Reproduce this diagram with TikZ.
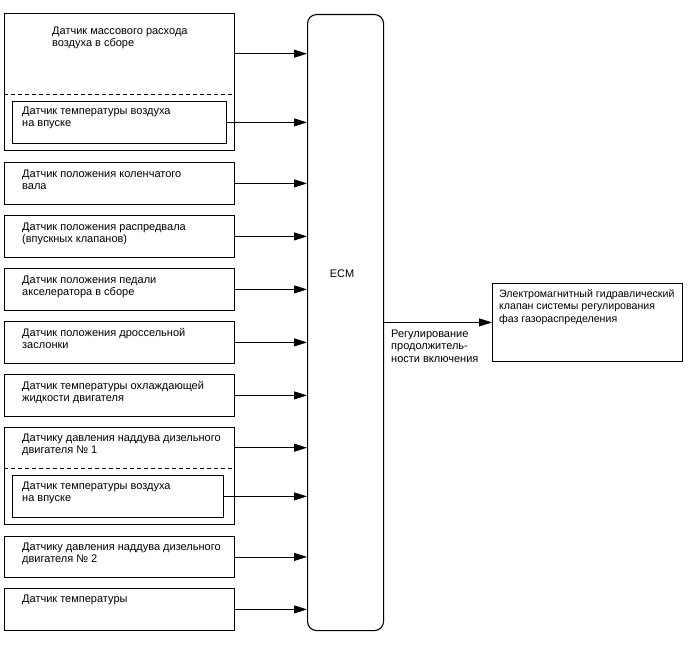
\documentclass[tikz,border=0pt]{standalone}
\usepackage{fontspec}
\setmainfont{Liberation Sans}
\usetikzlibrary{arrows.meta, positioning}

\begin{document}
\begin{tikzpicture}[x=1pt, y=-1pt,
    sensor/.style={draw, line width=0.8pt, anchor=north west, inner sep=0pt, minimum width=230pt, minimum height=42pt},
    part/.style={anchor=north west, inner sep=0pt, minimum width=230pt, minimum height=#1},
    txt/.style={anchor=base west, align=left, inner sep=0pt, font=\fontsize{11}{12}\selectfont},
    split/.style={line width=0.8pt, dash pattern=on 4pt off 3pt},
    arrow/.style={-{Triangle[length=13pt, width=8pt]}, line width=0.8pt}
]
\useasboundingbox (0,0) rectangle (688,658);

\node[sensor, minimum height=137pt] (maf) at (4,13) {};
\node[part=81pt] (maf-top) at (4,13) {};
\draw[split] (maf-top.south west) -- (maf-top.south east);
\node[txt] (maf-t) at (52,47) {Датчик массового расхода\\воздуха в сборе};
\node[sensor, minimum width=214pt] (iat1) at (12,101) {};
\node[txt] (iat1-t) at (22,127) {Датчик температуры воздуха\\на впуске};

\node[sensor] (crank) at (4,162) {};
\node[txt] (crank-t) at (22,189) {Датчик положения коленчатого\\вала};
\node[sensor] (cam) at (4,215) {};
\node[txt] (cam-t) at (22,242) {Датчик положения распредвала\\(впускных клапанов)};
\node[sensor] (pedal) at (4,268) {};
\node[txt] (pedal-t) at (22,295) {Датчик положения педали\\акселератора в сборе};
\node[sensor] (tps) at (4,321) {};
\node[txt] (tps-t) at (22,348) {Датчик положения дроссельной\\заслонки};
\node[sensor] (ect) at (4,374) {};
\node[txt] (ect-t) at (22,401) {Датчик температуры охлаждающей\\жидкости двигателя};

\node[sensor, minimum height=97pt] (boost) at (4,427) {};
\node[part=41pt] (boost-top) at (4,427) {};
\draw[split] (boost-top.south west) -- (boost-top.south east);
\node[txt] (boost-t) at (22,453) {Датчику давления наддува дизельного\\двигателя № 1};
\node[sensor, minimum width=211pt] (iat2) at (12,475) {};
\node[txt] (iat2-t) at (22,501) {Датчик температуры воздуха\\на впуске};

\node[sensor, minimum height=41pt] (boost2) at (4,536) {};
\node[txt] (boost2-t) at (22,562) {Датчику давления наддува дизельного\\двигателя № 2};
\node[sensor] (temp) at (4,588) {};
\node[txt] (temp-t) at (22,602) {Датчик температуры};

\node[draw, line width=1.1pt, rounded corners=9pt, anchor=north west, inner sep=0pt, minimum width=76pt, minimum height=616pt] (ecm) at (307,14) {};
\node[txt, anchor=base] (ecm-t) at (342,277) {ECM};

\node[sensor, minimum width=190pt, minimum height=78pt] (ocv) at (492,283) {};
\node[txt, font=\fontsize{10.6}{12.5}\selectfont] (ocv-t) at (499,322) {Электромагнитный гидравлический\\клапан системы регулирования\\фаз газораспределения};

\foreach \s in {maf-top, iat1, crank, cam, pedal, tps, ect, boost-top, iat2, boost2, temp}
    \draw[arrow] (\s.east) -- (\s.east -| ecm.west);
\draw[arrow] (ecm.east) -- (ocv.west);
\node[txt, font=\fontsize{11}{12.5}\selectfont] (duty) at (391,362) {Регулирование\\продолжитель-\\ности включения};
\end{tikzpicture}
\end{document}
